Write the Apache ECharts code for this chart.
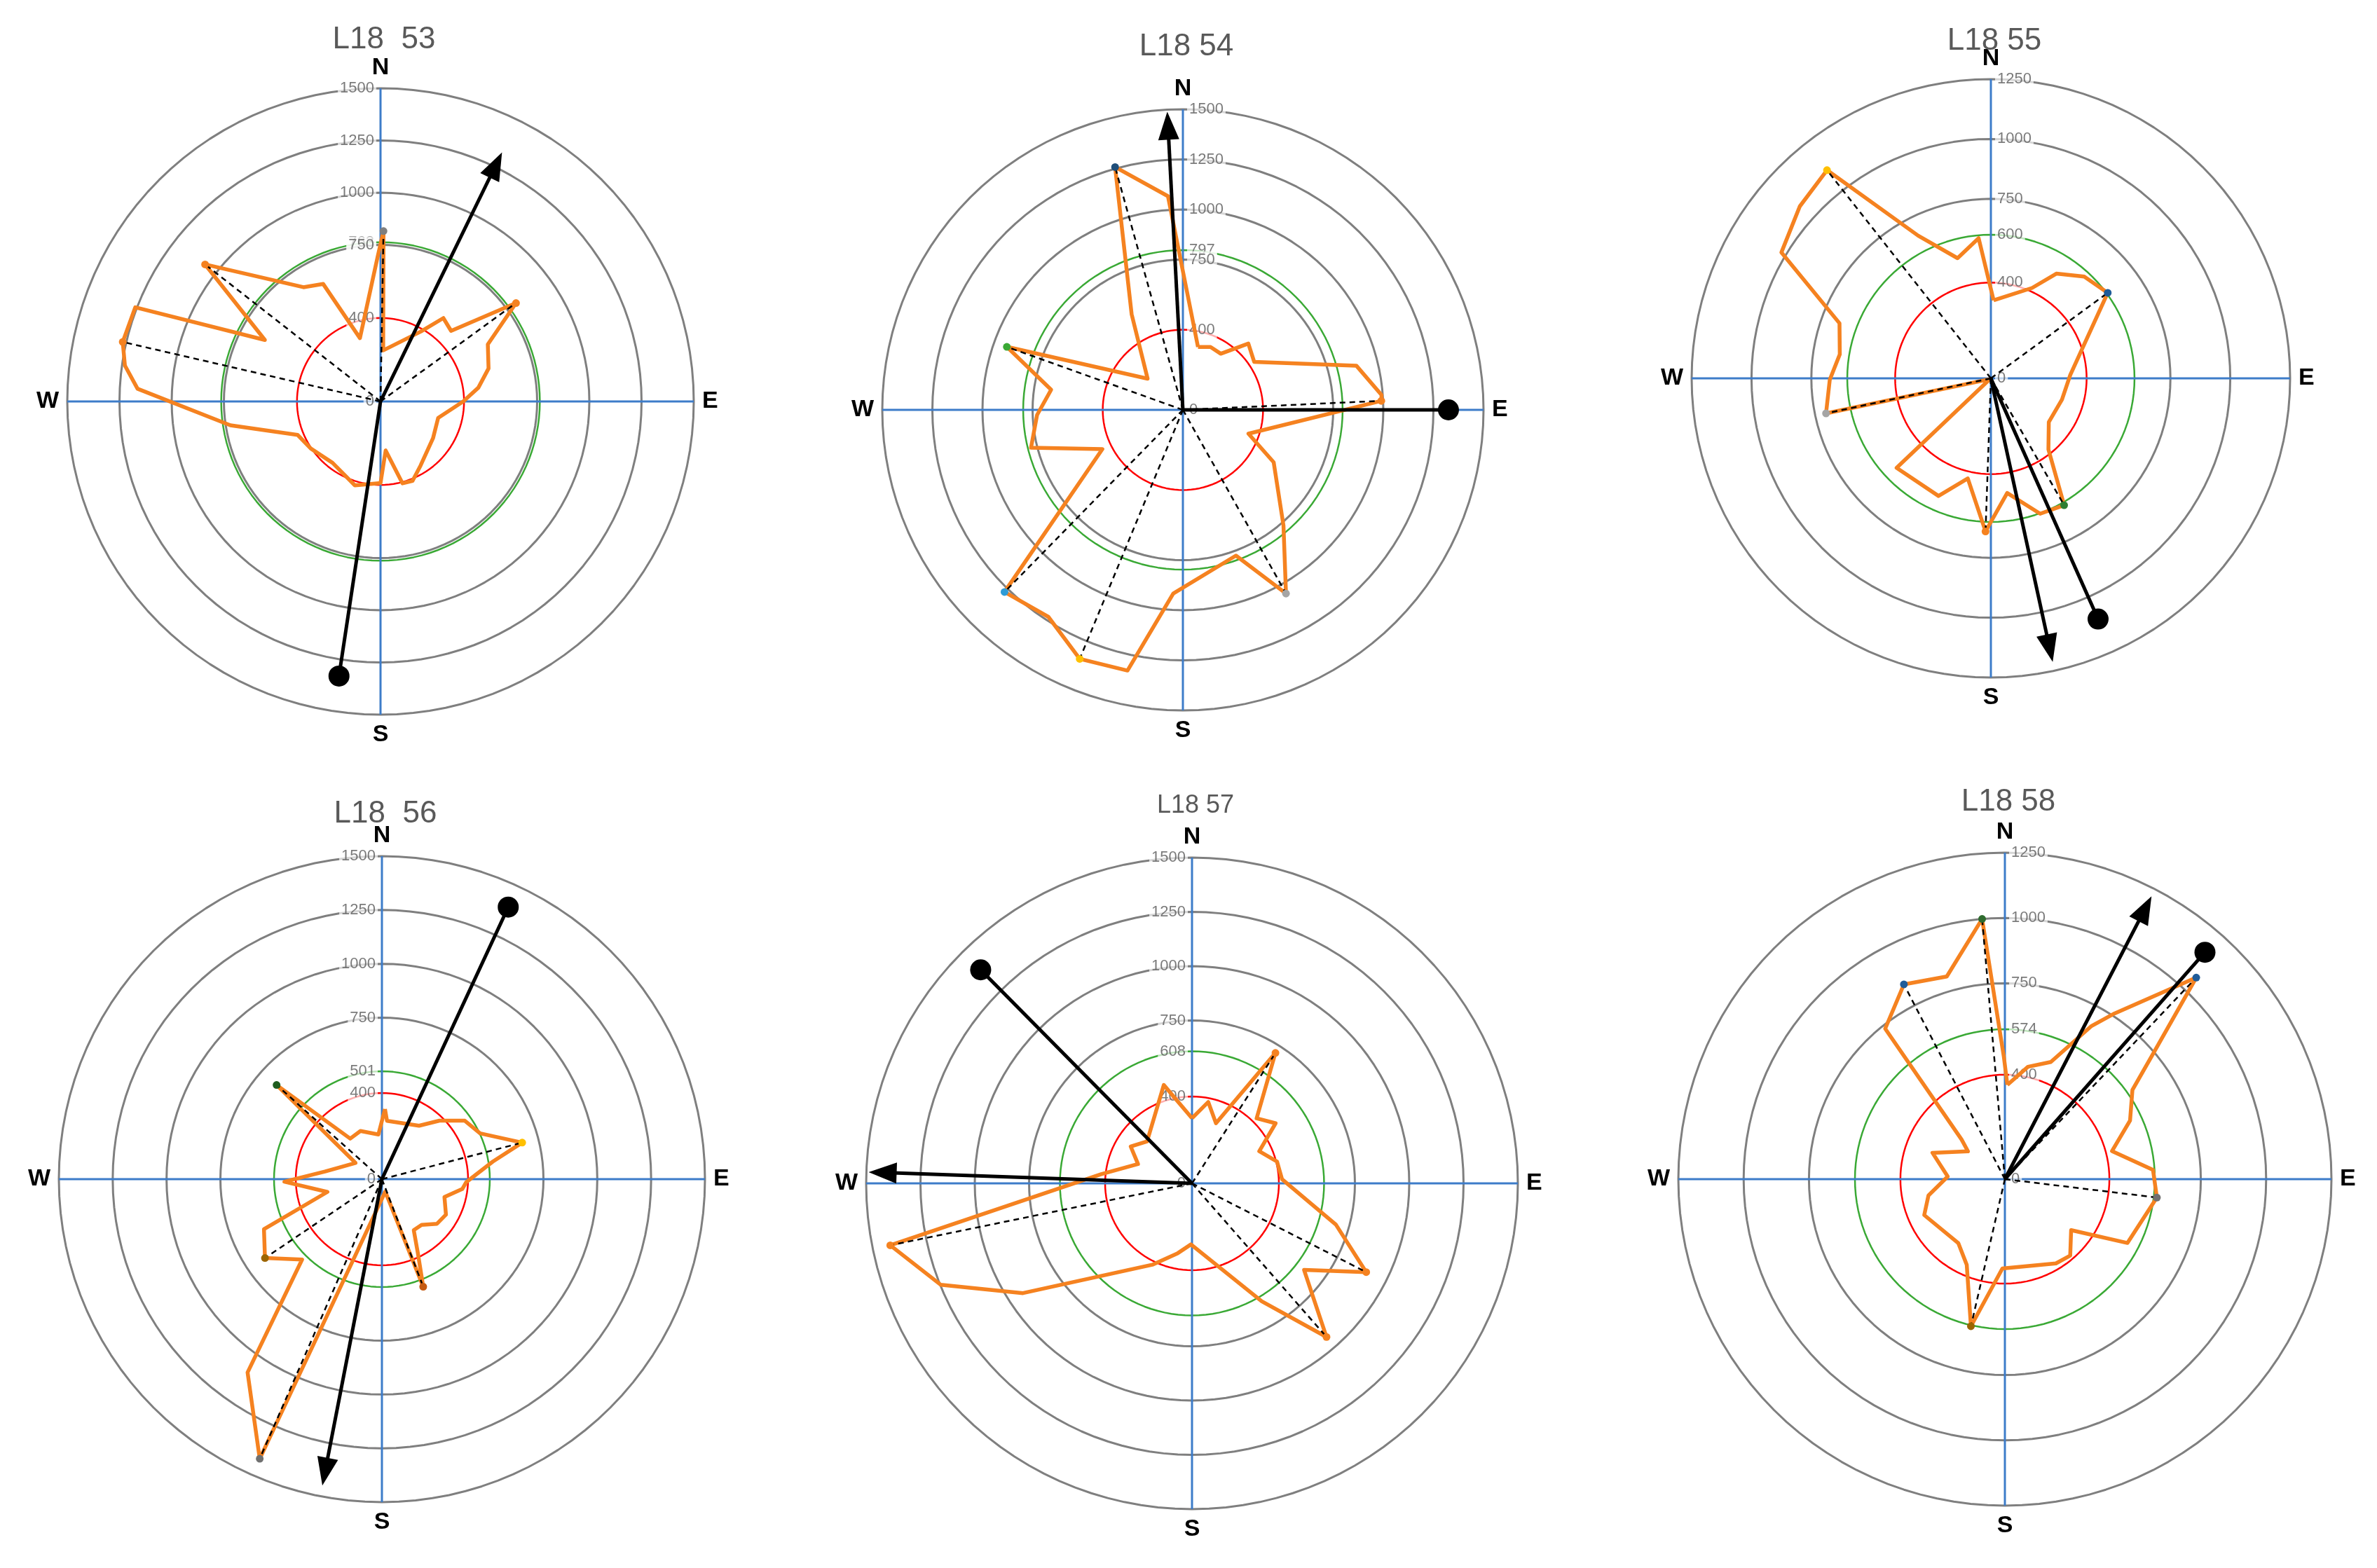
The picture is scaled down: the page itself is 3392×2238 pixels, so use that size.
<!DOCTYPE html>
<html><head><meta charset="utf-8">
<script src="https://cdn.jsdelivr.net/npm/echarts@6/dist/echarts.min.js"></script>
<style>html,body{margin:0;padding:0;background:#fff}#c{width:3392px;height:2238px}</style>
</head><body><div id="c"></div>
<script>
// ---- data (angle in degrees clockwise from North, value) ----
const titles = ['L18  53', 'L18 54', 'L18 55', 'L18  56', 'L18 57', 'L18 58'];
const maxVals = [1500, 1500, 1250, 1500, 1500, 1250];
const meanVals = [763, 797, 600, 501, 608, 574];
const thresholdVal = 400;

const p53Ang = [1,3,30,37,45,54,62,73,82,90,106,125,148,158,165,174,180,197,218,236,248,261,273,278,283,291,298,308,326,334,342,359];
const p53Val = [816,245,387,500,478,802,582,541,473,396,287,307,362,410,406,236,391,420,373,403,428,728,1165,1236,1267,1258,627,1066,660,626,319,700];
const p54Ang = [13.5,23.7,34,44.6,56,75.7,85.7,87.4,110,120,139,150.7,160,183,192,202.5,213,224.4,244,256,268,278.7,289.7,311.5,331.8,344.4,356];
const p54Val = [323,343,338,465,429,893,994,991,348,523,765,1051,774,918,1330,1345,1232,1272,447,781,728,665,933,235,541,1258,1069];
const p55Ang = [2,24.5,32,42.5,53.8,87.5,106.7,127,141,150,160,171.9,182,193,204,226.5,230,258,269.5,279,290,301,312,321.8,333,344.5,355];
const p55Val = [326,415,516,577,605,332,310,303,382,612,602,484,640,429,538,543,5,704,673,639,673,1021,1074,1107,669,521,588];
const p56Ang = [2.5,5,34.8,44.5,54.8,65,75.4,81,92,97,106,119,129,139,148,154,159,165,203.6,214.8,224.8,236,247,256.8,268.5,277.6,301.6,311.8,322,336,355.5];
const p56Val = [326,272,302,381,471,503,673,521,392,376,302,340,329,281,279,380,535,60,1417,1093,526,655,595,260,453,267,144,656,239,245,208];
const p57Ang = [0,11.3,21.7,32.6,44.8,54.3,64.5,75.6,87.4,106,117,127.7,138.8,149.4,181,191.5,206,237,248,258.4,275.8,289.7,301,313,344];
const p57Val = [300,382,298,713,422,474,343,404,415,689,900,652,940,631,281,328,417,928,1247,1418,420,264,329,283,471];
const p58Ang = [1.5,11.6,21.4,29.5,33.5,43.5,49.8,55,64.9,75.3,86.4,96.9,117.5,127.6,139.5,148.8,181.6,193,204,216,246,258,272.6,290,307,312.5,321.5,332.6,344,355,359.5];
const p58Val = [361,439,482,674,761,1064,742,596,529,424,568,586,529,320,385,377,342,578,359,303,338,299,219,295,177,225,736,840,807,1000,469];

// peak directions [angle, value, markerColor]
const p53Peaks = [[54,802,'#f58220'],[308,1066,'#f58220'],[283,1267,'#f58220'],[1,816,'#7f7f7f']];
const p54Peaks = [[344.4,1258,'#1f4e79'],[289.7,933,'#3aa935'],[224.4,1272,'#2e9bd6'],[202.5,1345,'#ffc000'],[150.7,1051,'#a5a5a5'],[87.4,991,'#f58220']];
const p55Peaks = [[321.8,1107,'#ffc000'],[53.8,605,'#1f5c99'],[258,704,'#a5a5a5'],[150,612,'#2e7d32'],[182,640,'#f58220']];
const p56Peaks = [[311.8,656,'#1e5c1e'],[75.4,673,'#ffc000'],[159,535,'#c55a11'],[236,655,'#9c6500'],[203.6,1417,'#707070']];
const p57Peaks = [[32.6,713,'#f58220'],[117,900,'#f58220'],[138.8,940,'#f58220'],[258.4,1418,'#f58220']];
const p58Peaks = [[332.6,840,'#1f5c99'],[355,1000,'#2e6b2e'],[43.5,1064,'#1f5c99'],[96.9,586,'#707070'],[193,578,'#9c6500']];

// resultant vectors [angle, value]
const arrowVecs = [[26,1260],[357,1420],[167.7,1154],[191,1384],[272,1425],[27.4,1166]];
const dotVecs = [[188.6,1330],[90,1325],[156,1101],[24.9,1393],[315.3,1383],[41.4,1158]];

// ---- layout ----
const centers = [[543,573],[1688,585],[2841,540],[545,1683],[1701,1689],[2861,1683]];
const radii = [447,429,427,461,465,466];
const titleY = [52,62,54,1157,1145,1140];
const titleSize = [44,44,44,44,36,44];
const labelSide = ['left','right','right','left','left','right'];
const pad = 1.04;

const angs = [p53Ang,p54Ang,p55Ang,p56Ang,p57Ang,p58Ang];
const vals = [p53Val,p54Val,p55Val,p56Val,p57Val,p58Val];
const peaks = [p53Peaks,p54Peaks,p55Peaks,p56Peaks,p57Peaks,p58Peaks];

function ring(v){const d=[];for(let a=0;a<=360;a+=3)d.push([v,a]);return d;}

const polar=[],angleAxis=[],radiusAxis=[],series=[],title=[];
function add(s){s.clip=false;series.push(s);}
for(let i=0;i<6;i++){
  const M=maxVals[i];
  polar.push({center:centers[i],radius:radii[i]*pad});
  angleAxis.push({polarIndex:i,type:'value',min:0,max:360,interval:90,startAngle:90,clockwise:true,
    axisLine:{show:false},axisTick:{show:false},splitLine:{show:false},
    axisLabel:{margin:8-radii[i]*(pad-1)+4,fontSize:34,fontWeight:'bold',color:'#000',fontFamily:'Liberation Sans',
      formatter:v=>({0:'N',90:'E',180:'S',270:'W'})[v]||''}});
  radiusAxis.push({polarIndex:i,min:0,max:M*pad,axisLine:{show:false},axisTick:{show:false},axisLabel:{show:false},splitLine:{show:false}});
  title.push({text:titles[i],left:centers[i][0],top:titleY[i]-titleSize[i]/2,textAlign:'center',
    textStyle:{fontSize:titleSize[i],fontWeight:'normal',color:'#595959',fontFamily:'Liberation Sans'}});
  for(let v=750;v<=M;v+=250){
    add({type:'line',coordinateSystem:'polar',polarIndex:i,data:ring(v),symbol:'none',silent:true,
      lineStyle:{color:'#7f7f7f',width:3}});
  }
  add({type:'line',coordinateSystem:'polar',polarIndex:i,data:ring(thresholdVal),symbol:'none',
    lineStyle:{color:'#ff0000',width:2.5}});
  add({type:'line',coordinateSystem:'polar',polarIndex:i,data:ring(meanVals[i]),symbol:'none',
    lineStyle:{color:'#3aa935',width:2.5}});
  add({type:'line',coordinateSystem:'polar',polarIndex:i,data:[[M,0],[0,0],[M,180]],symbol:'none',lineStyle:{color:'#3d7cc9',width:3}});
  add({type:'line',coordinateSystem:'polar',polarIndex:i,data:[[M,90],[0,0],[M,270]],symbol:'none',lineStyle:{color:'#3d7cc9',width:3}});
  const ticks=[0,thresholdVal,meanVals[i]];
  for(let v=750;v<=M;v+=250)ticks.push(v);
  add({type:'scatter',coordinateSystem:'polar',polarIndex:i,symbolSize:0,z:5,
    data:ticks.map(v=>[v,0]),
    label:{show:true,position:labelSide[i],distance:6,formatter:p=>String(p.value[0]),fontSize:22,color:'#595959',
      fontFamily:'Liberation Sans',backgroundColor:'rgba(255,255,255,0.85)',padding:[1,3]}});
  const d=angs[i].map((a,k)=>[vals[i][k],a]);d.push(d[0]);
  add({type:'line',coordinateSystem:'polar',polarIndex:i,data:d,symbol:'none',z:6,
    lineStyle:{color:'#f58220',width:5.5,join:'round'}});
  peaks[i].forEach(p=>{
    add({type:'line',coordinateSystem:'polar',polarIndex:i,z:7,symbol:'none',
      data:[[0,p[0]],{value:[p[1],p[0]],symbol:'circle',symbolSize:11,itemStyle:{color:p[2]}}],
      showSymbol:true,lineStyle:{color:'#000',width:2.5,type:[8,6]}});
  });
  const av=arrowVecs[i],dv=dotVecs[i];
  add({type:'line',coordinateSystem:'polar',polarIndex:i,z:8,symbol:'none',showSymbol:true,
    data:[[0,av[0]],{value:[av[1],av[0]],symbol:'triangle',symbolSize:[30,40],symbolRotate:-av[0],itemStyle:{color:'#000'}}],
    lineStyle:{color:'#000',width:5}});
  add({type:'line',coordinateSystem:'polar',polarIndex:i,z:8,symbol:'none',showSymbol:true,
    data:[[0,dv[0]],{value:[dv[1],dv[0]],symbol:'circle',symbolSize:30,itemStyle:{color:'#000'}}],
    lineStyle:{color:'#000',width:5}});
}
const chart=echarts.init(document.getElementById('c'));
chart.setOption({animation:false,backgroundColor:'#fff',title,polar,angleAxis,radiusAxis,series});
</script></body></html>
